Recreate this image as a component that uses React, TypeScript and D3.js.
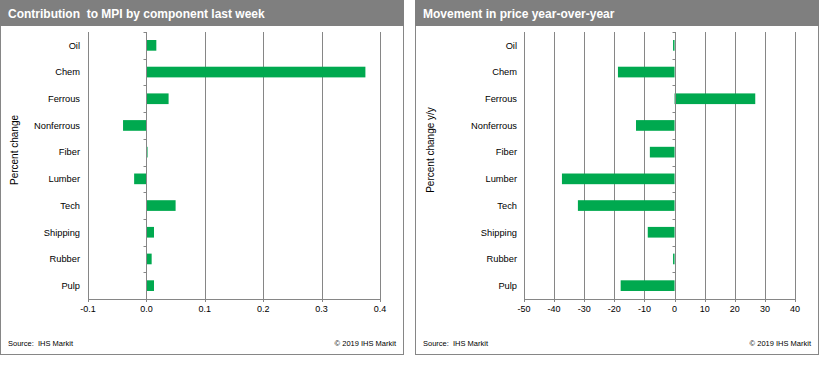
import * as d3 from 'd3';
import React, { useEffect, useRef } from 'react';

const categories = ['Oil', 'Chem', 'Ferrous', 'Nonferrous', 'Fiber', 'Lumber', 'Tech', 'Shipping', 'Rubber', 'Pulp'];

// contribution to MPI, percent change
const contributionValues = [0.017, 0.375, 0.038, -0.04, 0.002, -0.021, 0.05, 0.013, 0.009, 0.013];
const contributionTicks = [-0.1, 0, 0.1, 0.2, 0.3, 0.4];

// price movement, percent change y/y
const priceValues = [-0.5, -18.8, 26.8, -12.8, -8.2, -37.4, -32.1, -8.9, -0.5, -17.9];
const priceTicks = [-50, -40, -30, -20, -10, 0, 10, 20, 30, 40];

const FONT = '"Liberation Sans", Arial, sans-serif';
const PANEL_W = 404;
const PANEL_H = 355;
const HEADER_H = 26;
const PLOT_TOP = 32;
const PLOT_BOTTOM = 299;
const PLOT_RIGHT = 380;
const GRID = '#868686';
const BAR = '#00a94f';

type PanelProps = {
  left: number;
  title: string;
  yTitle: string;
  values: number[];
  ticks: number[];
  tickFormat: (v: number) => string;
  labelRight: number;
  plotLeft: number;
  yTitleX: number;
};

const Panel: React.FC<PanelProps> = ({ left, title, yTitle, values, ticks, tickFormat, labelRight, plotLeft, yTitleX }) => {
  const ref = useRef<SVGGElement | null>(null);

  useEffect(() => {
    if (!ref.current) return;
    const g = d3.select(ref.current);
    g.selectAll('*').remove();

    // frame + header
    g.append('rect')
      .attr('x', 0.5)
      .attr('y', 0.5)
      .attr('width', PANEL_W - 1)
      .attr('height', PANEL_H - 1)
      .attr('fill', '#fff')
      .attr('stroke', GRID);
    g.append('rect').attr('x', 0).attr('y', 0).attr('width', PANEL_W).attr('height', HEADER_H).attr('fill', '#7f7f7f');
    g.append('text')
      .attr('x', 8)
      .attr('y', 17.5)
      .attr('fill', '#fff')
      .style('font-family', FONT)
      .style('font-size', '12px')
      .style('font-weight', 'bold')
      .style('white-space', 'pre')
      .text(title);

    const x = d3
      .scaleLinear()
      .domain(d3.extent(ticks) as [number, number])
      .range([plotLeft, PLOT_RIGHT]);
    const y = d3
      .scaleBand()
      .domain(categories)
      .range([PLOT_TOP, PLOT_BOTTOM])
      .paddingInner(0.6)
      .paddingOuter(0.3);

    // vertical grid lines
    g.append('g')
      .selectAll('line')
      .data(ticks)
      .enter()
      .append('line')
      .attr('x1', (d) => Math.round(x(d)) + 0.5)
      .attr('x2', (d) => Math.round(x(d)) + 0.5)
      .attr('y1', PLOT_TOP)
      .attr('y2', PLOT_BOTTOM + 3)
      .attr('stroke', GRID);

    // bottom axis line
    g.append('line')
      .attr('x1', x(ticks[0]))
      .attr('x2', x(ticks[ticks.length - 1]) + 1)
      .attr('y1', PLOT_BOTTOM + 0.5)
      .attr('y2', PLOT_BOTTOM + 0.5)
      .attr('stroke', GRID);

    // bars
    g.append('g')
      .selectAll('rect')
      .data(values)
      .enter()
      .append('rect')
      .attr('x', (d) => Math.min(x(0), x(d)))
      .attr('y', (d, i) => y(categories[i])!)
      .attr('width', (d) => Math.max(1, Math.abs(x(d) - x(0))))
      .attr('height', y.bandwidth())
      .attr('fill', BAR);

    // category axis at zero with boundary ticks
    const zeroX = Math.round(x(0)) + 0.5;
    g.append('line')
      .attr('x1', zeroX)
      .attr('x2', zeroX)
      .attr('y1', PLOT_TOP)
      .attr('y2', PLOT_BOTTOM)
      .attr('stroke', GRID);
    const bounds = d3.range(categories.length + 1).map((i) => PLOT_TOP + i * y.step());
    g.append('g')
      .selectAll('line')
      .data(bounds)
      .enter()
      .append('line')
      .attr('x1', zeroX - 3)
      .attr('x2', zeroX)
      .attr('y1', (d) => Math.round(d) + 0.5)
      .attr('y2', (d) => Math.round(d) + 0.5)
      .attr('stroke', GRID);

    // category labels
    g.append('g')
      .selectAll('text')
      .data(categories)
      .enter()
      .append('text')
      .attr('x', labelRight)
      .attr('y', (d) => y(d)! + y.bandwidth() / 2)
      .attr('dy', '0.35em')
      .attr('text-anchor', 'end')
      .attr('fill', '#000')
      .style('font-family', FONT)
      .style('font-size', '9.3px')
      .text((d) => d);

    // value tick labels
    g.append('g')
      .selectAll('text')
      .data(ticks)
      .enter()
      .append('text')
      .attr('x', (d) => x(d))
      .attr('y', PLOT_BOTTOM + 13)
      .attr('text-anchor', 'middle')
      .attr('fill', '#000')
      .style('font-family', FONT)
      .style('font-size', '9px')
      .text((d) => tickFormat(d));

    // y axis title
    g.append('text')
      .attr('transform', `translate(${yTitleX},150) rotate(-90)`)
      .attr('text-anchor', 'middle')
      .attr('dy', '0.35em')
      .attr('fill', '#000')
      .style('font-family', FONT)
      .style('font-size', '10px')
      .text(yTitle);

    // footer
    g.append('text')
      .attr('x', 8)
      .attr('y', 346)
      .attr('fill', '#000')
      .style('font-family', FONT)
      .style('font-size', '7.5px')
      .style('white-space', 'pre')
      .text('Source:  IHS Markit');
    g.append('text')
      .attr('x', 396)
      .attr('y', 346)
      .attr('text-anchor', 'end')
      .attr('fill', '#000')
      .style('font-family', FONT)
      .style('font-size', '7.5px')
      .text('© 2019 IHS Markit');
  }, [left, title, yTitle, values, ticks, tickFormat, labelRight, plotLeft, yTitleX]);

  return <g ref={ref} transform={`translate(${left},0)`} />;
};

// plain hyphen minus, as in the original
const fmtOne = (v: number) => d3.format('.1f')(v).replace('\u2212', '-');
const fmtInt = (v: number) => d3.format('d')(v).replace('\u2212', '-');

export default function App() {
  return (
    <svg
      width={830}
      height={368}
      style={{ position: 'absolute', left: 0, top: 0, background: '#fff' }}
    >
      <Panel
        left={0}
        title="Contribution  to MPI by component last week"
        yTitle="Percent change"
        values={contributionValues}
        ticks={contributionTicks}
        tickFormat={fmtOne}
        labelRight={80}
        plotLeft={88}
        yTitleX={14}
      />
      <Panel
        left={415}
        title="Movement in price year-over-year"
        yTitle="Percent change y/y"
        values={priceValues}
        ticks={priceTicks}
        tickFormat={fmtInt}
        labelRight={102}
        plotLeft={109}
        yTitleX={15}
      />
    </svg>
  );
}
